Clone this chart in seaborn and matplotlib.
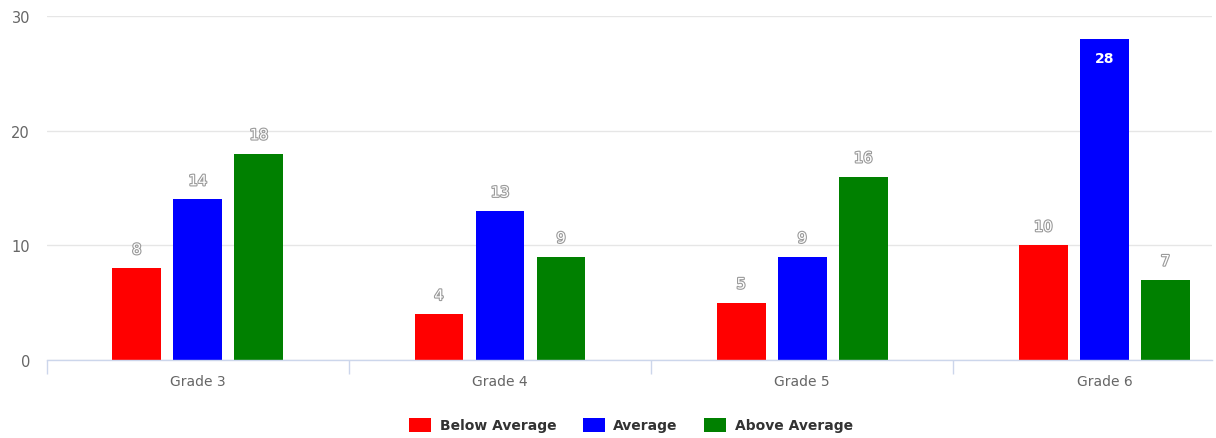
import matplotlib
matplotlib.use("Agg")
import matplotlib.pyplot as plt
import matplotlib.patheffects as pe
from matplotlib.patches import Patch
import seaborn as sns
import pandas as pd

categories = ["Grade 3", "Grade 4", "Grade 5", "Grade 6"]
series_names = ["Below Average", "Average", "Above Average"]
below_average = [8, 4, 5, 10]
average = [14, 13, 9, 28]
above_average = [18, 9, 16, 7]
colors = ["#ff0000", "#0000ff", "#008000"]
y_ticks = [0, 10, 20, 30]

rows = []
for name, vals in zip(series_names, [below_average, average, above_average]):
    for c, v in zip(categories, vals):
        rows.append({"Grade": c, "Series": name, "Value": v})
df = pd.DataFrame(rows)

sns.set_theme(style="white")
plt.rcParams["font.family"] = ["DejaVu Sans"]

fig = plt.figure(figsize=(12.16, 4.39), dpi=100)
ax = fig.add_axes([46.7 / 1216, 1 - 361 / 439, (1212 - 46.7) / 1216, (361 - 17) / 439])

sns.barplot(data=df, x="Grade", y="Value", hue="Series", hue_order=series_names,
            order=categories, palette=colors, width=0.606, gap=0.2,
            saturation=1, edgecolor="none", linewidth=0, legend=False, ax=ax)

ax.set_xlim(-0.5, 3.356)
ax.set_ylim(0, 30)
ax.set_yticks(y_ticks)
ax.set_yticklabels([str(t) for t in y_ticks])
ax.yaxis.grid(True, color="#e6e6e6", linewidth=1)
ax.set_axisbelow(True)
for s in ["top", "right", "left"]:
    ax.spines[s].set_visible(False)
ax.spines["bottom"].set_color("#ccd6eb")
ax.spines["bottom"].set_linewidth(1)
ax.set_xlabel("")
ax.set_ylabel("")

# category tick marks at boundaries
ax.set_xticks([i - 0.5 for i in range(4)], minor=True)
ax.tick_params(axis="x", which="minor", length=10, width=1, color="#ccd6eb", bottom=True)
ax.tick_params(axis="x", which="major", length=0, labelsize=10, labelcolor="#666666", pad=10)
ax.tick_params(axis="y", length=0, labelsize=10.5, labelcolor="#666666", pad=12)
for lbl in ax.get_yticklabels():
    lbl.set_horizontalalignment("right")

# data labels
for cont in ax.containers:
    for bar in cont:
        h = bar.get_height()
        xc = bar.get_x() + bar.get_width() / 2
        if h >= 25:
            ax.annotate(f"{int(h)}", (xc, h), xytext=(0, -9), textcoords="offset points",
                        ha="center", va="top", fontsize=10, fontweight="bold", color="white")
        else:
            ax.annotate(f"{int(h)}", (xc, h), xytext=(0, 8), textcoords="offset points",
                        ha="center", va="bottom", fontsize=10.5, color="white",
                        path_effects=[pe.withStroke(linewidth=1.6, foreground="#9a9a9a")])

handles = [Patch(facecolor=c, edgecolor="none") for c in colors]
fig.legend(handles, series_names, loc="center", bbox_to_anchor=(631 / 1216, 1 - 426 / 439),
           ncol=3, frameon=False, prop={"weight": "bold", "size": 10},
           labelcolor="#333333", handlelength=1.6, handleheight=1.2,
           handletextpad=0.6, columnspacing=1.9)

fig.savefig("out.png", dpi=100)
